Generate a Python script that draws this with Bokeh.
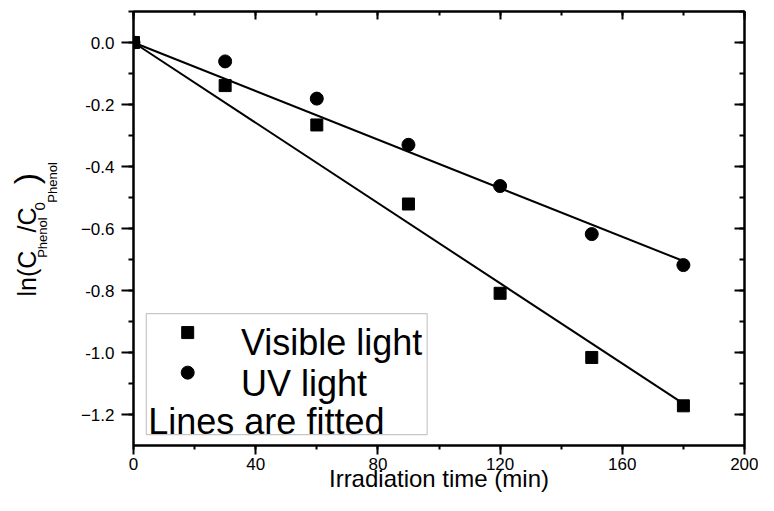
from bokeh.plotting import figure
from bokeh.layouts import row
from bokeh.models import (LinearAxis, Range1d, Label, BoxAnnotation, SingleIntervalTicker,
                          ColumnDataSource, CustomJSTickFormatter)
from bokeh.embed import file_html
from bokeh.resources import INLINE
import math

# ---- data ----
time_min = [0, 30, 60, 90, 120, 150, 180]
visible_ln = [0.0, -0.139, -0.266, -0.521, -0.809, -1.016, -1.172]
uv_ln = [0.0, -0.061, -0.181, -0.330, -0.463, -0.618, -0.718]
fit_x = [0, 180]
visible_fit = [0.0, -1.165]
uv_fit = [0.0, -0.705]
x_ticks = [0, 40, 80, 120, 160, 200]
y_ticks = [0.0, -0.2, -0.4, -0.6, -0.8, -1.0, -1.2]

FONT = "Liberation Sans"
X0, X1, Y0, Y1 = 0, 200, -1.3, 0.1
H = 495
LW = 62                      # width of the y-title strip
PW = 758 - LW                # main plot width
FL, FT, FB = 133 - LW, 11, 50
FW = 611
FR = PW - FL - FW


def px(ix):
    # reference-pixel x -> data x
    return (ix - 137) / 3.1


def py(iy):
    return (42.3 - iy) / 309.6


p = figure(width=PW, height=H, output_backend="svg", toolbar_location=None,
           x_range=Range1d(X0, X1), y_range=Range1d(Y0, Y1),
           min_border_left=FL, min_border_right=FR, min_border_top=FT, min_border_bottom=FB,
           background_fill_color="white", border_fill_color="white")
p.grid.visible = False
p.outline_line_color = "black"
p.outline_line_width = 2


def style_axis(ax, tick_out, minor_out, tick_in, minor_in, labels=True, standoff=6):
    ax.axis_line_width = 2
    ax.axis_line_color = "black"
    ax.major_tick_line_width = 2
    ax.minor_tick_line_width = 2
    ax.major_tick_out = tick_out
    ax.minor_tick_out = minor_out
    ax.major_tick_in = tick_in
    ax.minor_tick_in = minor_in
    ax.major_label_text_font = FONT
    ax.major_label_text_color = "black"
    ax.major_label_standoff = standoff
    if labels:
        ax.major_label_text_font_size = "17px"
    else:
        ax.formatter = CustomJSTickFormatter(code="return ''")
        ax.major_label_text_font_size = "1px"
        ax.major_label_standoff = 0


xb = p.xaxis[0]
yl = p.yaxis[0]
xb.ticker = SingleIntervalTicker(interval=40, num_minor_ticks=2)
yl.ticker = SingleIntervalTicker(interval=0.2, num_minor_ticks=2)
xb.major_label_overrides = {v: str(v) for v in x_ticks}
yl.major_label_overrides = {v: f"{v:.1f}" for v in y_ticks}
style_axis(xb, 9, 4, 0, 0, True, 3)
style_axis(yl, 12, 5, 0, 0, True, 7)
xb.axis_label = "Irradiation time (min)"
xb.axis_label_text_font = FONT
xb.axis_label_text_font_size = "24px"
xb.axis_label_text_font_style = "normal"
xb.axis_label_text_color = "black"
xb.axis_label_standoff = -8

xt = LinearAxis(ticker=SingleIntervalTicker(interval=40, num_minor_ticks=2))
style_axis(xt, 0, 0, 8, 4, False)
p.add_layout(xt, "above")
yr = LinearAxis(ticker=SingleIntervalTicker(interval=0.2, num_minor_ticks=2))
style_axis(yr, 0, 0, 10, 5, False)
p.add_layout(yr, "right")

# fitted lines
p.line(fit_x, visible_fit, line_color="black", line_width=2)
p.line(fit_x, uv_fit, line_color="black", line_width=2)

# points
src = ColumnDataSource(dict(t=time_min, vis=visible_ln, uv=uv_ln))
p.scatter("t", "vis", source=src, marker="square", size=12, color="black")
p.scatter("t", "uv", source=src, marker="circle", size=13, color="black")

# legend (manual)
p.add_layout(BoxAnnotation(left=px(150), right=px(435), top=py(313), bottom=py(434),
                           fill_color="white", fill_alpha=1.0, line_color="#444444",
                           line_width=1.2, level="underlay"))
p.scatter([px(192)], [py(332)], marker="square", size=12, color="black")
p.scatter([px(192)], [py(372)], marker="circle", size=13, color="black")
for txt, ix, iy in [("Visible light", 246, 342), ("UV light", 246, 383), ("Lines are fitted", 152, 421)]:
    p.add_layout(Label(x=px(ix), y=py(iy), text=txt, text_font=FONT, text_font_size="36px",
                       text_color="black", text_baseline="alphabetic", text_align="left"))

# y title strip: ln(C_Phenol / C_0_Phenol)
yfig = figure(width=LW, height=H, output_backend="svg", toolbar_location=None,
              x_range=Range1d(0, LW), y_range=Range1d(H, 0),
              x_axis_type=None, y_axis_type=None,
              min_border_left=0, min_border_right=0, min_border_top=0, min_border_bottom=0,
              outline_line_color=None, background_fill_color="white", border_fill_color="white")
yfig.grid.visible = False
pieces = [
    ("ln(C", 25, 26, 325),
    ("Phenol", 13, 42, 281),
    ("/C", 25, 26, 252),
    ("0", 15, 39, 227),
    ("Phenol", 13, 52, 218),
    (")", 34, 25, 197),
]
for txt, fs, ix, iy in pieces:
    yfig.add_layout(Label(x=ix, y=iy, text=txt, text_font=FONT, text_font_size=f"{fs}px",
                          text_color="black", text_baseline="middle", text_align="left",
                          angle=math.pi / 2))

layout = row(yfig, p)
open("out.html", "w").write(file_html(layout, INLINE))
